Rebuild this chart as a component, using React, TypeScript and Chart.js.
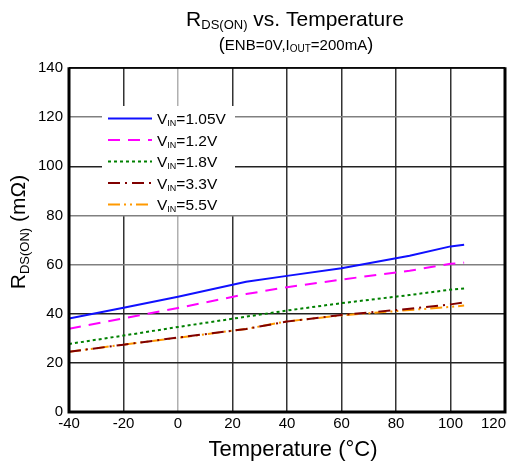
import React, { useEffect, useRef } from "react";
import { Chart, registerables } from "chart.js";

Chart.register(...registerables);

const temps = [-40, -20, 0, 25, 40, 60, 85, 100, 105];
const vin105 = [38.0, 42.4, 46.9, 53.0, 55.4, 58.5, 63.6, 67.4, 68.1];
const vin12 = [33.9, 38.1, 42.3, 48.0, 50.8, 53.9, 57.5, 60.3, 60.8];
const vin18 = [27.7, 31.1, 34.6, 38.8, 41.3, 44.3, 47.6, 49.8, 50.3];
const vin33 = [24.5, 27.4, 30.3, 33.8, 36.8, 39.5, 42.0, 43.8, 44.6];
const vin55 = [24.5, 27.4, 30.2, 33.8, 36.9, 39.3, 41.5, 42.8, 43.3];
const seriesLabels = ["=1.05V", "=1.2V", "=1.8V", "=3.3V", "=5.5V"];
const xTicks = [-40, -20, 0, 20, 40, 60, 80, 100, 120];
const yTicks = [0, 20, 40, 60, 80, 100, 120, 140];

const FONT = '"Liberation Sans", Arial, sans-serif';
const colors = ["#1010ff", "#ff00ff", "#008000", "#800000", "#ff9900"];
const dashes: number[][] = [[], [12, 8], [3, 3], [12, 5, 2, 5], [12, 4, 2, 4, 2, 4]];

type Part = { t: string; s: number; dy?: number };

function drawRich(ctx: CanvasRenderingContext2D, parts: Part[], x: number, y: number, align: "left" | "center") {
  let w = 0;
  for (const p of parts) {
    ctx.font = `${p.s}px ${FONT}`;
    w += ctx.measureText(p.t).width;
  }
  let cx = align === "center" ? x - w / 2 : x;
  ctx.textAlign = "left";
  ctx.textBaseline = "alphabetic";
  for (const p of parts) {
    ctx.font = `${p.s}px ${FONT}`;
    ctx.fillText(p.t, cx, y + (p.dy || 0));
    cx += ctx.measureText(p.t).width;
  }
}

const decorPlugin = {
  id: "decor",
  afterDatasetsDraw(chart: any) {
    const ctx: CanvasRenderingContext2D = chart.ctx;
    const a = chart.chartArea;
    ctx.save();
    // frame
    ctx.strokeStyle = "#000";
    ctx.setLineDash([]);
    ctx.lineWidth = 1.5;
    ctx.beginPath();
    ctx.moveTo(a.left, a.top);
    ctx.lineTo(a.right, a.top);
    ctx.stroke();
    ctx.lineWidth = 3;
    ctx.beginPath();
    ctx.moveTo(a.left, a.top - 0.75);
    ctx.lineTo(a.left, a.bottom);
    ctx.lineTo(a.right, a.bottom);
    ctx.lineTo(a.right, a.top - 0.75);
    ctx.stroke();

    // last x tick label, right-aligned to the frame
    const xs = chart.scales.x;
    const last = xTicks[xTicks.length - 1];
    ctx.fillStyle = "#000";
    ctx.font = `15px ${FONT}`;
    ctx.textAlign = "right";
    ctx.textBaseline = "middle";
    ctx.fillText(String(last), xs.getPixelForValue(last) + 1, a.bottom + 12);

    // legend box
    ctx.fillStyle = "#fff";
    ctx.fillRect(102, 106, 133, 109);
    const rowY = [118.5, 140, 161.5, 183, 204.5];
    for (let i = 0; i < 5; i++) {
      ctx.strokeStyle = colors[i];
      ctx.lineWidth = 2;
      ctx.setLineDash(dashes[i]);
      ctx.beginPath();
      ctx.moveTo(108, rowY[i]);
      ctx.lineTo(152, rowY[i]);
      ctx.stroke();
      ctx.setLineDash([]);
      ctx.fillStyle = "#000";
      drawRich(ctx, [{ t: "V", s: 15.5 }, { t: "IN", s: 9, dy: 2 }, { t: seriesLabels[i], s: 15.5 }], 157, rowY[i] + 5.5, "left");
    }

    // titles
    ctx.fillStyle = "#000";
    drawRich(ctx, [{ t: "R", s: 21 }, { t: "DS(ON)", s: 13, dy: 3 }, { t: " vs. Temperature", s: 21 }], 295, 26, "center");
    drawRich(ctx, [{ t: "(", s: 18 }, { t: "ENB=0V,I", s: 15 }, { t: "OUT", s: 10, dy: 2 }, { t: "=200mA", s: 15 }, { t: ")", s: 18 }], 296, 50, "center");
    drawRich(ctx, [{ t: "Temperature (°C)", s: 22 }], 293, 456, "center");
    ctx.translate(25, 232);
    ctx.rotate(-Math.PI / 2);
    drawRich(ctx, [{ t: "R", s: 21 }, { t: "DS(ON)", s: 13, dy: 4 }, { t: " (mΩ)", s: 21 }], 0, 0, "center");
    ctx.restore();
  },
};

export default function App() {
  const ref = useRef<HTMLCanvasElement | null>(null);
  useEffect(() => {
    if (!ref.current) return;
    const all = [vin105, vin12, vin18, vin33, vin55];
    const chart = new Chart(ref.current, {
      type: "line",
      data: {
        datasets: all.map((vals, i) => ({
          label: "VIN" + seriesLabels[i],
          data: temps.map((t, j) => ({ x: t, y: vals[j] })),
          borderColor: colors[i],
          borderWidth: 2,
          borderDash: dashes[i],
          pointRadius: 0,
          fill: false,
          tension: 0,
        })),
      },
      options: {
        responsive: false,
        animation: false,
        layout: { padding: { left: 0, top: 68, right: 10, bottom: 0 } },
        plugins: { legend: { display: false }, title: { display: false }, tooltip: { enabled: false } },
        scales: {
          x: {
            type: "linear",
            min: -40,
            max: 120,
            afterBuildTicks: (s: any) => { s.ticks = xTicks.map((v) => ({ value: v })); },
            afterFit: (s: any) => { s.height = 60; s.paddingRight = 0; s.paddingLeft = 0; },
            ticks: {
              color: "#000",
              font: { family: FONT, size: 15 },
              padding: 3,
              maxRotation: 0,
              callback: (v: any) => (v === xTicks[xTicks.length - 1] ? "" : String(v)),
            },
            grid: {
              drawTicks: false,
              color: (c: any) => (c.tick && c.tick.value === 0 ? "#b0b0b0" : "#333"),
              lineWidth: 1.5,
            },
            border: { display: false },
          },
          y: {
            min: 0,
            max: 140,
            afterBuildTicks: (s: any) => { s.ticks = yTicks.map((v) => ({ value: v })); },
            afterFit: (s: any) => { s.width = 69; },
            ticks: { color: "#000", font: { family: FONT, size: 15 }, padding: 6 },
            grid: {
              drawTicks: false,
              color: (c: any) => (c.tick && (c.tick.value === 60 || c.tick.value === 120 || c.tick.value === 80) ? "#808080" : "#222"),
              lineWidth: 1.5,
            },
            border: { display: false },
          },
        },
      },
      plugins: [decorPlugin],
    } as any);
    return () => chart.destroy();
  }, []);
  return (
    <div style={{ position: "fixed", left: 0, top: 0, width: 515, height: 472, background: "#fff" }}>
      <canvas ref={ref} width={515} height={472} style={{ width: 515, height: 472 }} />
    </div>
  );
}
